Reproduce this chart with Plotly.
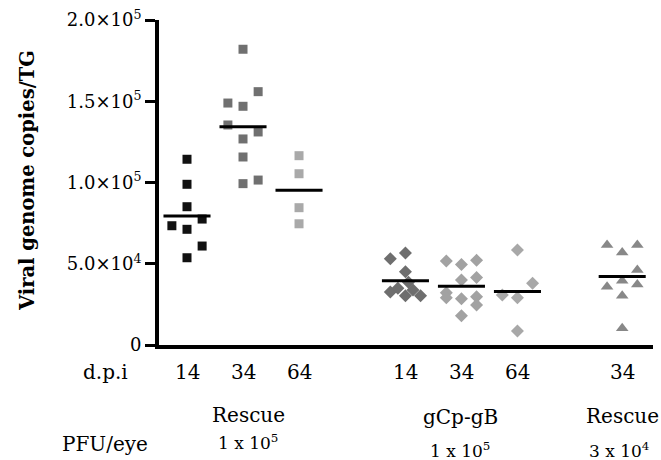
import plotly.graph_objects as go

# ---- data (viral genome copies / TG) ----
group_names = ["Rescue 14", "Rescue 34", "Rescue 64", "gCp-gB 14", "gCp-gB 34", "gCp-gB 64", "Rescue(3e4) 34"]
group_pos = [1, 2, 3, 4.9, 5.9, 6.9, 8.77]
dpi_labels = ["14", "34", "64", "14", "34", "64", "34"]

g1 = [114300, 98900, 85100, 77500, 73400, 71200, 60900, 53700]
g2 = [182000, 155900, 148900, 146900, 135400, 131100, 126800, 115700, 101500, 99300]
g3 = [116500, 105400, 84500, 74600]
g4 = [53100, 56600, 45100, 38600, 32600, 34900, 30300, 33800, 30300]
g5 = [51700, 49600, 52100, 40000, 41600, 32200, 29100, 28500, 29700, 24600, 18000]
g6 = [58500, 38000, 30800, 29100, 8600]
g7 = [61500, 61500, 57000, 46200, 39600, 35900, 37300, 30300, 10300]

# dot-plot column of each point (-1 left, 0 centre, 1 right)
c1 = [0, 0, 0, 1, -1, 0, 1, 0]
c2 = [0, 1, -1, 0, -1, 1, 0, 0, 1, 0]
c3 = [0, 0, 0, 0]
c4 = [-1, 0, 0, 0.2, -1, -0.5, 0, 0.5, 1]
c5 = [-1, 0, 1, 0, 1, -1, -1, 0, 1, 1, 0]
c6 = [0, 1, -1, 0, 0]
c7 = [-1, 1, 0, 1, 0, -1, 1, 0, 0]

values = [g1, g2, g3, g4, g5, g6, g7]
cols = [c1, c2, c3, c4, c5, c6, c7]
symbols = ["square", "square", "square", "diamond", "diamond", "diamond", "triangle-up"]
colors = ["#111111", "#707070", "#a9a9a9", "#6e6e6e", "#a2a2a2", "#a8a8a8", "#888888"]
sizes = [9, 9, 9, 10, 10, 10, 11]

ytick_vals = [0, 50000, 100000, 150000, 200000]
ytick_text = ["0", "5.0×10<sup>4</sup>", "1.0×10<sup>5</sup>", "1.5×10<sup>5</sup>", "2.0×10<sup>5</sup>"]

FONT = "DejaVu Serif"
JIT = 0.27
HALF = 0.42

fig = go.Figure()
for i in range(len(values)):
    xs = [group_pos[i] + c * JIT for c in cols[i]]
    fig.add_trace(go.Scatter(
        x=xs, y=values[i], mode="markers",
        marker=dict(symbol=symbols[i], color=colors[i], size=sizes[i], line=dict(width=0)),
        name=group_names[i], showlegend=False, hoverinfo="y"))
for i in range(len(values)):
    m = sum(values[i]) / len(values[i])
    fig.add_trace(go.Scatter(
        x=[group_pos[i] - HALF, group_pos[i] + HALF], y=[m, m], mode="lines",
        line=dict(color="black", width=3), showlegend=False, hoverinfo="skip"))

L, R, T, B = 159, 8, 20, 115
W, H = 661, 460
plot_h = H - T - B
plot_w = W - L - R

def py(ypix):
    return (H - B - ypix) / plot_h

def px(xpix):
    return (xpix - L) / plot_w

def txt(text, x, y, size=20, xref="paper", angle=0, bold=False):
    return dict(text=("<b>%s</b>" % text) if bold else text, textangle=angle,
                xref=xref, yref="paper", x=x, y=py(y),
                xanchor="center", yanchor="middle", showarrow=False,
                font=dict(family=FONT, size=size, color="black"))

ann = [txt("Viral genome copies/TG", px(27), 181, size=19.5, angle=-90, bold=True),
       txt("d.p.i", px(105), 372)]
for i in range(len(group_pos)):
    ann.append(txt(dpi_labels[i], group_pos[i], 372, xref="x"))
ann += [txt("Rescue", px(248), 415),
        txt("gCp-gB", px(460), 417),
        txt("Rescue", px(622), 416),
        txt("PFU/eye", px(105), 444),
        txt("1 x 10<sup>5</sup>", px(248), 442, size=17),
        txt("1 x 10<sup>5</sup>", px(460), 450, size=17),
        txt("3 x 10<sup>4</sup>", px(619), 450, size=17)]

fig.update_layout(
    width=W, height=H,
    margin=dict(l=L, r=R, t=T, b=B, autoexpand=False),
    paper_bgcolor="white", plot_bgcolor="white",
    annotations=ann,
    xaxis=dict(range=[0.5, 9.32], showgrid=False, zeroline=False, showticklabels=False,
               ticks="", showline=True, linecolor="black", linewidth=4),
    yaxis=dict(range=[0, 200000], showgrid=False, zeroline=False,
               tickvals=ytick_vals, ticktext=ytick_text, ticks="outside", ticklen=10,
               tickwidth=3, tickcolor="black", showline=True, linecolor="black", linewidth=4,
               tickfont=dict(family=FONT, size=18, color="black")),
)

fig.write_html("out.html", config={"displayModeBar": False},
               post_script="document.body.style.margin='0';document.body.style.padding='0';document.body.style.overflow='hidden';")
